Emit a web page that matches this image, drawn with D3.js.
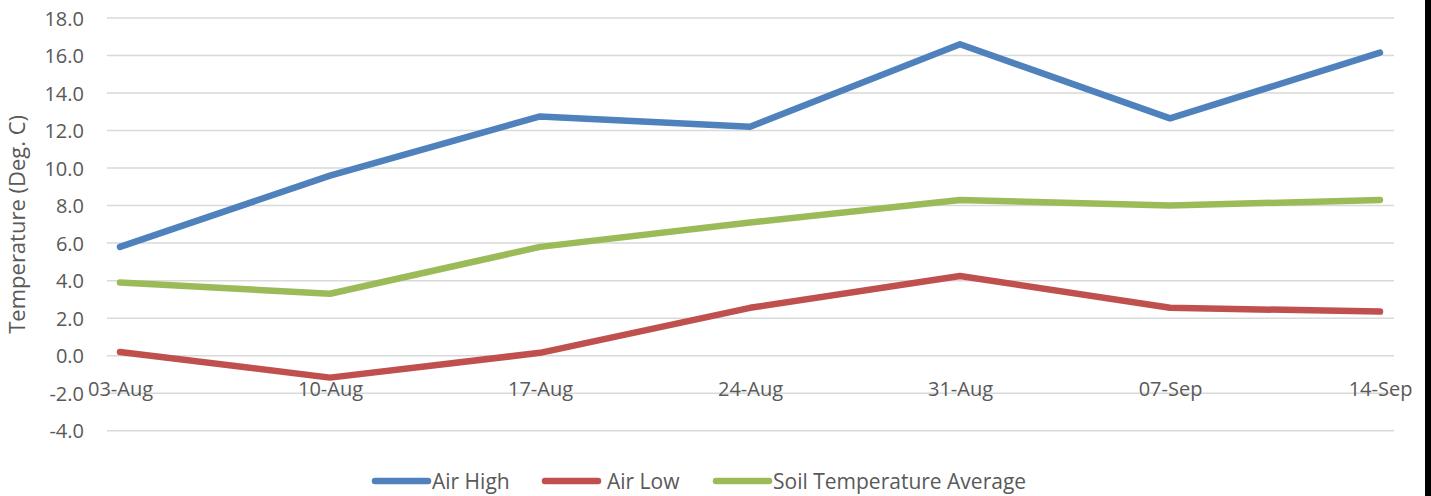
<!DOCTYPE html>
<html><head><meta charset="utf-8">
<script src="https://cdn.jsdelivr.net/npm/d3@7/dist/d3.min.js"></script>
<style>body{margin:0;background:#fff}svg{display:block}</style>
</head><body>
<script>
const categories = ["03-Aug","10-Aug","17-Aug","24-Aug","31-Aug","07-Sep","14-Sep"];
const airHigh = [5.8, 9.6, 12.75, 12.2, 16.6, 12.65, 16.15];
const airLow = [0.2, -1.17, 0.15, 2.55, 4.25, 2.55, 2.35];
const soilAvg = [3.9, 3.3, 5.8, 7.1, 8.3, 8.0, 8.3];
const yTicks = [-4, -2, 0, 2, 4, 6, 8, 10, 12, 14, 16, 18];
const seriesNames = ["Air High", "Air Low", "Soil Temperature Average"];
const colors = ["#4f81bd", "#c0504d", "#9bbb59"];

const W = 1431, H = 496;
const font = "'Open Sans', sans-serif";
const svg = d3.select("body").append("svg").attr("width", W).attr("height", H);

const x = d3.scalePoint().domain(categories).range([120, 1380]);
const y = d3.scaleLinear().domain([-4, 18]).range([430.7, 18]);

// gridlines
svg.append("g").selectAll("line").data(yTicks).join("line")
  .attr("x1", 107).attr("x2", 1394)
  .attr("y1", d => y(d)).attr("y2", d => y(d))
  .attr("stroke", "#d9d9d9").attr("stroke-width", 1.5);

// y axis labels
const fmt = d => d.toFixed(1);
const yAxis = d3.axisLeft(y).tickValues(yTicks).tickFormat(fmt).tickSize(0).tickPadding(0);
const ya = svg.append("g").attr("transform", "translate(84,0)").call(yAxis);
ya.select(".domain").remove();
ya.selectAll("text").attr("font-family", font).attr("font-size", 20).attr("fill", "#595959").attr("dy", "0.36em");

// x axis labels at y=0
const xAxis = d3.axisBottom(x).tickSize(0).tickPadding(0);
const xa = svg.append("g").attr("transform", `translate(0,${y(0)})`).call(xAxis);
xa.select(".domain").remove();
xa.selectAll("text").attr("font-family", font).attr("font-size", 20).attr("fill", "#595959")
  .attr("dy", null).attr("y", 40);

// y title
svg.append("text").attr("transform", `translate(25,${(y(18)+y(-4))/2}) rotate(-90)`)
  .attr("text-anchor", "middle").attr("font-family", font).attr("font-size", 22).attr("fill", "#595959")
  .text("Temperature (Deg. C)");

// lines
const line = d3.line().x((d, i) => x(categories[i])).y(d => y(d));
[airHigh, airLow, soilAvg].forEach((s, k) => {
  svg.append("path").datum(s).attr("d", line).attr("fill", "none")
    .attr("stroke", colors[k]).attr("stroke-width", 6.5)
    .attr("stroke-linecap", "round").attr("stroke-linejoin", "round");
});

// legend
const legX = [375, 545, 716];
const lg = svg.append("g");
seriesNames.forEach((n, k) => {
  lg.append("line").attr("x1", legX[k]).attr("x2", legX[k] + 53).attr("y1", 481).attr("y2", 481)
    .attr("stroke", colors[k]).attr("stroke-width", 6.5).attr("stroke-linecap", "round");
  lg.append("text").attr("x", legX[k] + (k === 1 ? 62 : 57)).attr("y", 481).attr("dy", "0.36em")
    .attr("font-family", font).attr("font-size", 21).attr("fill", "#595959").text(n);
});

// right black border
svg.append("rect").attr("x", 1425).attr("y", 0).attr("width", 6).attr("height", H).attr("fill", "#000");
</script>
</body></html>
